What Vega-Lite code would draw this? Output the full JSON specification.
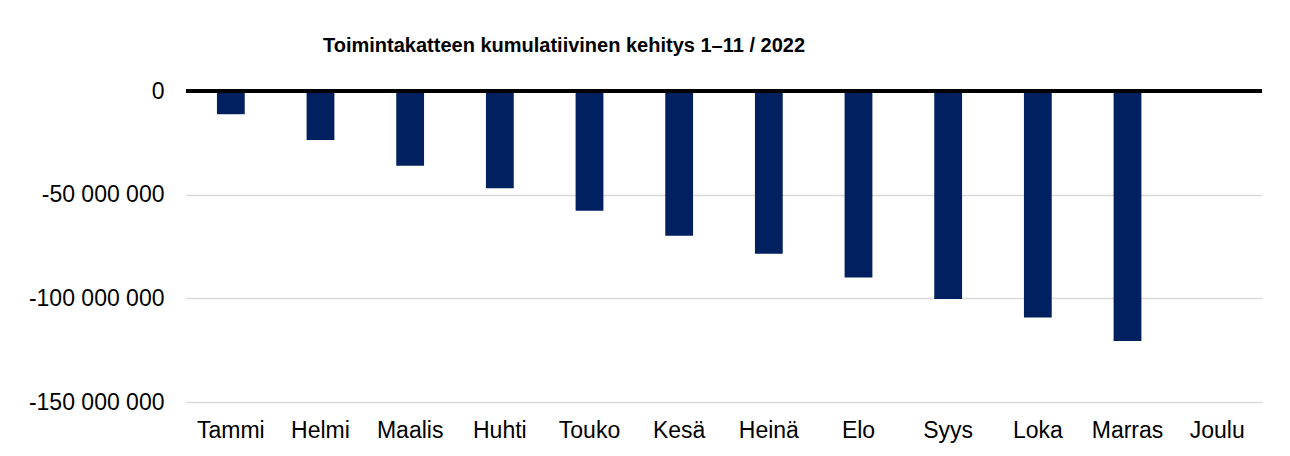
{
  "$schema": "https://vega.github.io/schema/vega-lite/v6.json",
  "autosize": "none",
  "width": 1076,
  "height": 311,
  "padding": {"left": 186, "top": 91, "right": 28, "bottom": 54},
  "background": "white",
  "title": {
    "text": "Toimintakatteen kumulatiivinen kehitys 1–11 / 2022",
    "font": "Liberation Sans",
    "fontSize": 20,
    "fontWeight": "bold",
    "color": "black",
    "anchor": "middle",
    "frame": "group",
    "dx": -160,
    "baseline": "alphabetic",
    "offset": 8
  },
  "config": {
    "locale": {"number": {"decimal": ",", "thousands": " ", "grouping": [3], "currency": ["", " €"], "minus": "-"}},
    "view": {"stroke": null},
    "font": "Liberation Sans"
  },
  "data": {
    "values": [
      {"kuukausi": "Tammi", "arvo": -11200000},
      {"kuukausi": "Helmi", "arvo": -23600000},
      {"kuukausi": "Maalis", "arvo": -36000000},
      {"kuukausi": "Huhti", "arvo": -46900000},
      {"kuukausi": "Touko", "arvo": -57700000},
      {"kuukausi": "Kesä", "arvo": -69800000},
      {"kuukausi": "Heinä", "arvo": -78500000},
      {"kuukausi": "Elo", "arvo": -90000000},
      {"kuukausi": "Syys", "arvo": -100300000},
      {"kuukausi": "Loka", "arvo": -109300000},
      {"kuukausi": "Marras", "arvo": -120600000},
      {"kuukausi": "Joulu", "arvo": null}
    ]
  },
  "layer": [
    {
      "mark": {"type": "bar", "color": "#002060"},
      "encoding": {
        "x": {
          "field": "kuukausi",
          "type": "nominal",
          "sort": null,
          "scale": {
            "domain": ["Tammi", "Helmi", "Maalis", "Huhti", "Touko", "Kesä", "Heinä", "Elo", "Syys", "Loka", "Marras", "Joulu"],
            "paddingInner": 0.69,
            "paddingOuter": 0.345
          },
          "axis": {
            "title": null,
            "domain": false,
            "ticks": false,
            "grid": false,
            "labelAngle": 0,
            "labelFontSize": 23,
            "labelColor": "black",
            "labelPadding": 17,
            "labelFont": "Liberation Sans"
          }
        },
        "y": {
          "field": "arvo",
          "type": "quantitative",
          "scale": {"domain": [-150000000, 0], "nice": false, "zero": true},
          "axis": {
            "title": null,
            "values": [-150000000, -100000000, -50000000, 0],
            "format": ",.0f",
            "domain": false,
            "ticks": false,
            "grid": true,
            "gridColor": "#d9d9d9",
            "gridWidth": 1.5,
            "labelFontSize": 23,
            "labelColor": "black",
            "labelPadding": 22,
            "labelFont": "Liberation Sans"
          }
        }
      }
    },
    {
      "mark": {"type": "rule", "color": "black", "strokeWidth": 3},
      "encoding": {"y": {"datum": 0}}
    }
  ]
}
